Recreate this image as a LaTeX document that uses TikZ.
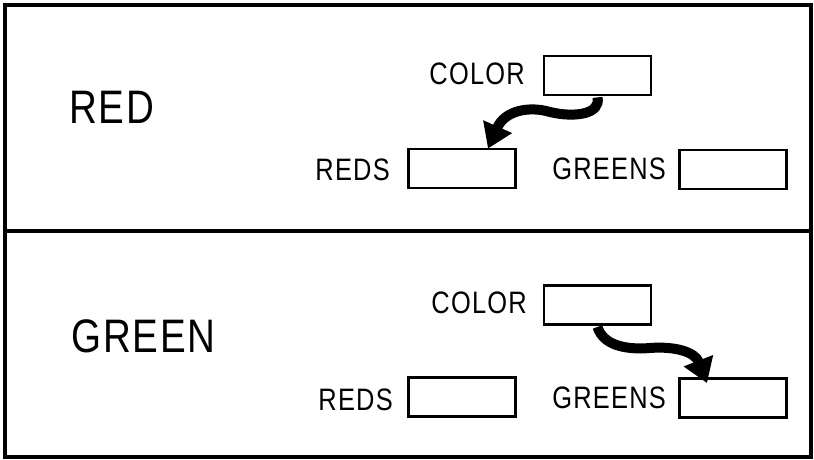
\documentclass[tikz,border=0pt]{standalone}
\usepackage{fontspec}
\setmainfont{Liberation Sans}[FakeStretch=0.82,LetterSpace=4]
\usetikzlibrary{arrows.meta}
\tikzset{
  panel/.style={draw, line width=3.4pt},
  slot/.style={draw, line width=2.8pt, minimum width=107pt, minimum height=39pt, inner sep=0pt},
  lbl/.style={font=\fontsize{31}{31}\selectfont, inner sep=0pt, anchor=east},
  big/.style={font=\fontsize{47}{47}\selectfont, inner sep=0pt, anchor=west},
  flow/.style={line width=10pt, -{Triangle[width=30pt,length=24pt]}}
}
\begin{document}
\begin{tikzpicture}[x=1pt,y=-1pt]
\useasboundingbox (0,0) rectangle (814,459);
% panels
\draw[panel] (5,5) rectangle (811,231);
\draw[panel] (5,231) rectangle (811,457);
% top panel
\node[big] (t1) at (69,107) {RED};
\node[slot] (c1) at (597.5,75.5) {};
\node[slot] (r1) at (462,168.5) {};
\node[slot] (g1) at (733,169.5) {};
\node[lbl] (lc1) at (525,74) {COLOR};
\node[lbl] (lr1) at (390,170) {REDS};
\node[lbl] (lg1) at (666,169) {GREENS};
\draw[flow] ([yshift=-1pt]c1.south) .. controls (601,114) and (575,118) .. (550,112)
  .. controls (530,106) and (505,110) .. ([xshift=26pt,yshift=-1pt]r1.north);
% bottom panel
\node[big] (t2) at (71,336) {GREEN};
\node[slot] (c2) at (597.5,305) {};
\node[slot] (r2) at (462,397) {};
\node[slot] (g2) at (733,398) {};
\node[lbl] (lc2) at (527,303) {COLOR};
\node[lbl] (lr2) at (393,400) {REDS};
\node[lbl] (lg2) at (666,398) {GREENS};
\draw[flow] ([yshift=-1pt]c2.south) .. controls (603,345) and (625,350) .. (650,348)
  .. controls (675,346) and (695,352) .. ([xshift=-26pt,yshift=-6pt]g2.north);
\end{tikzpicture}
\end{document}
